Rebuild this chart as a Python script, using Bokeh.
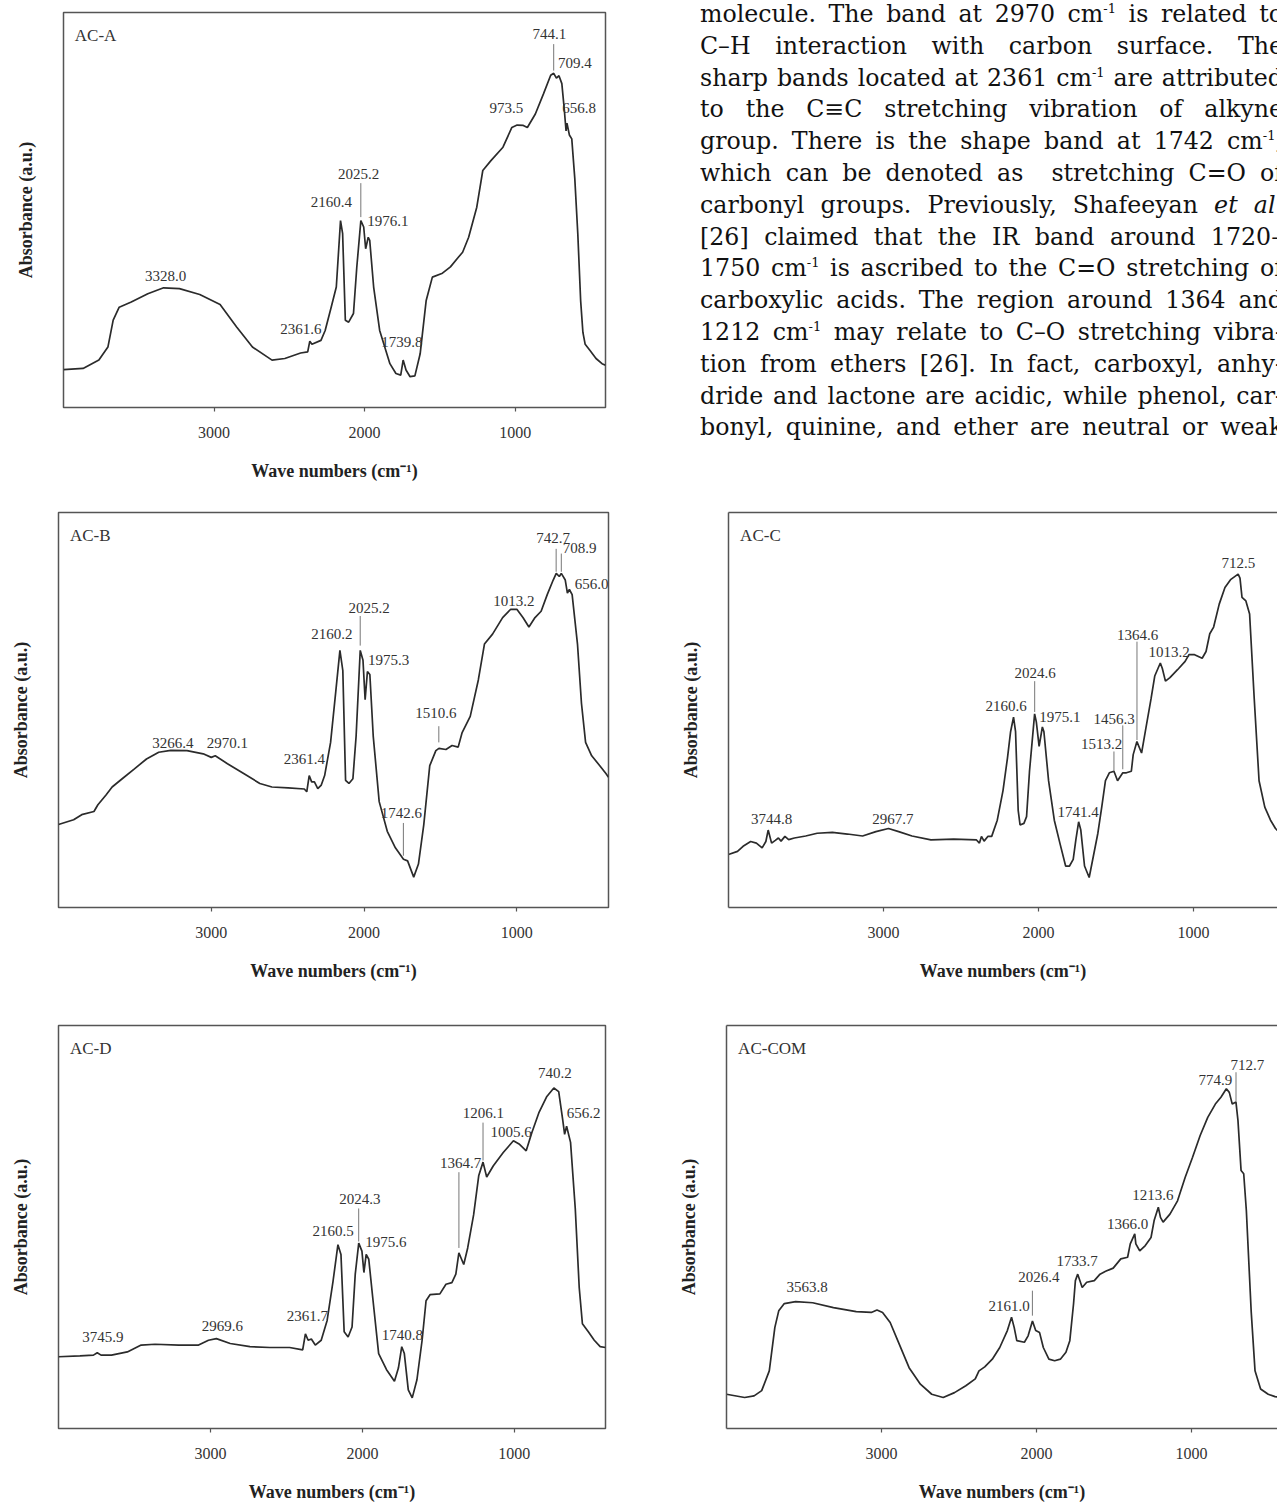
from bokeh.plotting import figure
from bokeh.models import Range1d, FixedTicker, LinearAxis, Div, ColumnDataSource
from bokeh.layouts import column, row
from bokeh.embed import file_html
from bokeh.resources import INLINE
from bokeh.core.properties import value

# ---------------- data ----------------
xticks = [1000, 2000, 3000]

acA_wn = [4000, 3870, 3765, 3705, 3670, 3630, 3550, 3440, 3335, 3230, 3095, 2960, 2850, 2745, 2615, 2530, 2425, 2378, 2364, 2350,
          2290, 2262, 2222, 2188, 2160, 2146, 2128, 2106, 2074, 2052, 2025, 2006, 1993, 1976, 1966, 1940, 1900, 1832, 1792, 1760,
          1744, 1725, 1698, 1666, 1631, 1591, 1550, 1483, 1430, 1376, 1349, 1309, 1255, 1215, 1161, 1081, 1022, 987, 946, 919,
          866, 812, 764, 744, 726, 709, 690, 675, 662, 656, 640, 624, 604, 584, 565, 550, 535, 504, 463, 423, 400]
acA_abs = [.096, .099, .12, .153, .221, .254, .267, .288, .303, .301, .286, .261, .204, .153, .12, .124, .138, .141, .168, .160,
           .170, .195, .254, .305, .473, .44, .221, .216, .238, .355, .473, .457, .402, .431, .423, .305, .195, .111, .086, .082,
           .12, .095, .078, .08, .136, .271, .33, .34, .356, .381, .393, .431, .507, .60, .625, .659, .709, .715, .714, .709,
           .743, .794, .841, .846, .834, .840, .82, .76, .70, .72, .69, .68, .58, .44, .27, .19, .16, .145, .124, .111, .107]

acB_wn = [4000, 3901, 3848, 3768, 3742, 3689, 3649, 3583, 3503, 3424, 3344, 3265, 3159, 3053, 3000, 2974, 2894, 2788, 2682, 2603,
          2497, 2391, 2375, 2359, 2343, 2325, 2303, 2280, 2258, 2219, 2184, 2158, 2139, 2121, 2099, 2073, 2052, 2025, 2007, 1993,
          1978, 1962, 1940, 1901, 1848, 1795, 1742, 1715, 1675, 1644, 1609, 1570, 1530, 1510, 1464, 1424, 1384, 1358, 1305, 1252,
          1212, 1159, 1093, 1040, 1000, 960, 921, 881, 841, 801, 762, 742, 722, 709, 683, 669, 656, 638, 603, 577,
          550, 510, 457, 417, 400]
acB_abs = [.21, .222, .235, .243, .26, .285, .305, .326, .351, .376, .393, .398, .397, .389, .38, .384, .364, .339, .314, .305,
           .303, .30, .293, .334, .318, .318, .301, .31, .334, .418, .551, .651, .60, .322, .314, .326, .434, .651, .626, .526,
           .597, .59, .434, .268, .193, .151, .122, .118, .077, .11, .21, .359, .397, .403, .40, .41, .406, .443, .484, .576,
           .667, .692, .734, .755, .755, .734, .71, .734, .75, .792, .829, .846, .838, .846, .829, .796, .805, .792, .667, .517,
           .418, .384, .359, .339, .33]

acC_wn = [4000, 3942, 3906, 3857, 3820, 3783, 3759, 3744, 3722, 3698, 3678, 3661, 3636, 3612, 3575, 3502, 3428, 3330, 3233, 3135,
          3049, 2968, 2902, 2816, 2694, 2547, 2400, 2381, 2368, 2351, 2327, 2302, 2266, 2229, 2200, 2180, 2161, 2148, 2131, 2119,
          2094, 2077, 2058, 2025, 2014, 1996, 1975, 1965, 1935, 1898, 1862, 1825, 1800, 1776, 1759, 1741, 1727, 1703, 1673, 1654,
          1617, 1592, 1568, 1543, 1513, 1490, 1456, 1433, 1401, 1389, 1365, 1335, 1311, 1274, 1250, 1214, 1201, 1181, 1152, 1103,
          1054, 1029, 993, 944, 919, 895, 870, 834, 797, 761, 712, 700, 687, 662, 638, 608, 577, 540, 503, 471, 445]
acC_abs = [.134, .142, .155, .167, .163, .151, .167, .196, .163, .17, .176, .168, .18, .172, .176, .181, .188, .19, .186, .181,
           .192, .20, .192, .181, .171, .173, .171, .163, .18, .168, .18, .18, .221, .296, .379, .445, .482, .445, .246, .209,
           .213, .23, .345, .49, .47, .408, .457, .445, .321, .221, .163, .105, .105, .122, .171, .217, .196, .105, .076, .114,
           .188, .254, .321, .341, .345, .321, .341, .341, .345, .387, .42, .391, .445, .528, .586, .619, .605, .573, .582, .602,
           .623, .64, .64, .631, .648, .693, .71, .768, .81, .83, .844, .834, .785, .776, .743, .528, .321, .254, .221, .20, .19]

acD_wn = [4000, 3859, 3770, 3745, 3720, 3651, 3547, 3456, 3365, 3208, 3078, 3013, 2961, 2870, 2740, 2609, 2479, 2393, 2375, 2357,
          2336, 2310, 2271, 2232, 2193, 2161, 2141, 2120, 2094, 2068, 2047, 2024, 2003, 1990, 1975, 1958, 1932, 1893, 1841, 1789,
          1763, 1741, 1724, 1698, 1672, 1641, 1607, 1581, 1555, 1490, 1450, 1411, 1385, 1365, 1333, 1307, 1268, 1234, 1206, 1182,
          1138, 1073, 1006, 969, 922, 885, 839, 786, 740, 708, 682, 669, 656, 630, 599, 573, 552, 513, 474, 435, 400]
acD_abs = [.178, .18, .182, .188, .182, .182, .19, .207, .209, .207, .207, .219, .223, .211, .203, .201, .201, .195, .235, .219,
           .222, .207, .219, .268, .366, .456, .432, .24, .227, .252, .383, .46, .44, .387, .432, .42, .325, .186, .146, .117,
           .15, .203, .186, .096, .076, .121, .219, .317, .332, .334, .358, .362, .383, .436, .407, .448, .53, .628, .661, .624,
           .652, .685, .714, .706, .689, .734, .783, .824, .845, .836, .767, .73, .75, .71, .546, .35, .26, .24, .219, .203, .201]

acCOM_wn = [4000, 3883, 3822, 3773, 3724, 3688, 3663, 3627, 3554, 3444, 3310, 3163, 3066, 3029, 2993, 2944, 2895, 2822, 2749, 2676,
            2602, 2529, 2456, 2395, 2371, 2334, 2285, 2237, 2188, 2161, 2144, 2127, 2078, 2054, 2026, 2005, 1980, 1956, 1920, 1883,
            1846, 1810, 1785, 1761, 1749, 1734, 1705, 1676, 1627, 1590, 1554, 1505, 1456, 1412, 1395, 1366, 1359, 1334, 1298, 1261,
            1241, 1214, 1200, 1183, 1139, 1090, 1041, 993, 944, 895, 846, 810, 775, 756, 737, 713, 700, 680, 663, 646,
            615, 590, 554, 505, 461, 440]
acCOM_abs = [.085, .077, .081, .094, .143, .251, .292, .31, .315, .312, .30, .29, .288, .294, .288, .263, .218, .151, .11, .085,
             .077, .089, .106, .123, .143, .153, .172, .201, .243, .276, .251, .218, .214, .23, .267, .243, .238, .201, .172, .168,
             .172, .189, .218, .309, .367, .383, .35, .363, .367, .383, .39, .398, .421, .425, .458, .483, .458, .441, .454, .474,
             .516, .549, .524, .512, .532, .565, .623, .673, .727, .772, .805, .822, .843, .834, .805, .81, .764, .64, .632, .541,
             .292, .143, .098, .085, .079, .078]

# peak labels: text, x (cm-1), y (a.u.)
acA_lab_text = ["744.1", "709.4", "656.8", "973.5", "2025.2", "2160.4", "1976.1", "3328.0", "2361.6", "1739.8"]
acA_lab_x = [772, 603, 576, 1059, 2039, 2221, 1846, 3322, 2423, 1752]
acA_lab_y = [.945, .871, .758, .758, .59, .52, .472, .334, .2, .166]
acA_mark_x = [744.1, 2025.2]
acA_mark_y0 = [.853, .482]
acA_mark_y1 = [.92, .568]

acB_lab_text = ["742.7", "708.9", "656.0", "1013.2", "2025.2", "2160.2", "1975.3", "1510.6", "3266.4", "2970.1", "2361.4", "1742.6"]
acB_lab_x = [762, 589, 510, 1019, 1967, 2211, 1840, 1530, 3252, 2894, 2391, 1755]
acB_lab_y = [.936, .911, .82, .775, .759, .692, .627, .493, .416, .416, .376, .239]
acB_mark_x = [742.7, 708.9, 2025.2, 1510.6, 1742.6]
acB_mark_y0 = [.85, .85, .663, .418, .131]
acB_mark_y1 = [.908, .896, .738, .459, .214]

acC_lab_text = ["712.5", "1364.6", "1013.2", "2024.6", "2160.6", "1975.1", "1456.3", "1513.2", "1741.4", "3744.8", "2967.7"]
acC_lab_x = [711, 1360, 1157, 2021, 2209, 1862, 1512, 1592, 1744, 3722, 2939]
acC_lab_y = [.872, .689, .648, .594, .51, .482, .478, .413, .242, .225, .225]
acC_mark_x = [1364.6, 2024.6, 1456.3, 1513.2]
acC_mark_y0 = [.424, .495, .35, .345]
acC_mark_y1 = [.673, .573, .461, .395]

acD_lab_text = ["740.2", "656.2", "1206.1", "1005.6", "1364.7", "2024.3", "2160.5", "1975.6", "2361.7", "2969.6", "1740.8", "3745.9"]
acD_lab_x = [734, 544, 1203, 1021, 1354, 2016, 2193, 1846, 2362, 2922, 1737, 3708]
acD_lab_y = [.881, .782, .782, .736, .659, .569, .49, .463, .278, .254, .231, .227]
acD_mark_x = [1206.1, 1364.7, 2024.3]
acD_mark_y0 = [.665, .448, .464]
acD_mark_y1 = [.759, .636, .546]

acCOM_lab_text = ["712.7", "774.9", "1213.6", "1366.0", "1733.7", "2026.4", "3563.8", "2161.0"]
acCOM_lab_x = [639, 846, 1249, 1412, 1737, 1985, 3480, 2176]
acCOM_lab_y = [.901, .865, .58, .507, .415, .375, .35, .305]
acCOM_mark_x = [712.7, 2026.4]
acCOM_mark_y0 = [.81, .28]
acCOM_mark_y1 = [.884, .342]

text_lines = [
    "molecule. The band at 2970 cm<sup>-1</sup> is related to",
    "C\u2013H interaction with carbon surface. The",
    "sharp bands located at 2361 cm<sup>-1</sup> are attributed",
    "to the C\u2261C stretching vibration of alkyne",
    "group. There is the shape band at 1742 cm<sup>-1</sup>,",
    "which can be denoted as&nbsp; stretching C=O of",
    "carbonyl groups. Previously, Shafeeyan <i>et al.</i>",
    "[26] claimed that the IR band around 1720\u2013",
    "1750 cm<sup>-1</sup> is ascribed to the C=O stretching of",
    "carboxylic acids. The region around 1364 and",
    "1212 cm<sup>-1</sup> may relate to C\u2013O stretching vibra-",
    "tion from ethers [26]. In fact, carboxyl, anhy-",
    "dride and lactone are acidic, while phenol, car-",
    "bonyl, quinine, and ether are neutral or weak",
]

# ---------------- styling ----------------
SERIF = "Liberation Serif"
FRAME = "#555555"
INK = "#333333"


def panel(title, wn, ab, lt, lx, ly, mx, my0, my1, width, height, borders, x_end, cut):
    left, right, top, bottom = borders
    p = figure(width=width, height=height, x_range=Range1d(4000, x_end), y_range=Range1d(0, 1),
               output_backend="svg", toolbar_location=None,
               min_border_left=left, min_border_right=right, min_border_top=top, min_border_bottom=bottom)
    p.grid.visible = False
    p.background_fill_color = "white"
    p.border_fill_color = "white"

    xa = p.xaxis[0]
    xa.ticker = FixedTicker(ticks=xticks)
    xa.major_tick_out = 4
    xa.major_tick_in = 0
    xa.minor_tick_line_color = None
    xa.major_tick_line_color = FRAME
    xa.major_tick_line_width = 1.2
    xa.major_label_text_font = SERIF
    xa.major_label_text_font_size = "16px"
    xa.major_label_text_color = INK
    xa.major_label_standoff = 15
    xa.axis_label = "Wave numbers (cm\u207b\u00b9)"
    xa.axis_label_text_font = SERIF
    xa.axis_label_text_font_style = "bold"
    xa.axis_label_text_font_size = "18px"
    xa.axis_label_text_color = "#222222"
    xa.axis_label_standoff = 20

    ya = p.yaxis[0]
    ya.ticker = FixedTicker(ticks=[])
    ya.major_tick_out = 0
    ya.major_tick_in = 0
    ya.minor_tick_line_color = None
    ya.major_label_text_font_size = "0px"
    ya.axis_label = "Absorbance (a.u.)"
    ya.axis_label_text_font = SERIF
    ya.axis_label_text_font_style = "bold"
    ya.axis_label_text_font_size = "18px"
    ya.axis_label_text_color = "#222222"
    ya.axis_label_standoff = 28

    if cut:
        p.outline_line_color = None
        for ax in (xa, ya):
            ax.axis_line_color = FRAME
            ax.axis_line_width = 1.5
        top_ax = LinearAxis(ticker=FixedTicker(ticks=[]), major_label_text_font_size="0px",
                            major_tick_out=0, major_tick_in=0, minor_tick_line_color=None,
                            axis_line_color=FRAME, axis_line_width=1.5)
        p.add_layout(top_ax, "above")
    else:
        p.outline_line_color = FRAME
        p.outline_line_width = 1.5
        xa.axis_line_color = None
        ya.axis_line_color = None

    src = ColumnDataSource(dict(x=wn, y=ab))
    p.line("x", "y", source=src, line_color="#2b2b2b", line_width=1.7)

    p.segment(x0=mx, y0=my0, x1=mx, y1=my1, line_color="#777777", line_width=1)

    p.text(x=lx, y=ly, text=lt, text_align="center", text_baseline="middle",
           text_font=value(SERIF), text_font_size="15px", text_color=INK)
    p.text(x=[3925], y=[0.942], text=[title], text_align="left", text_baseline="middle",
           text_font=value(SERIF), text_font_size="17px", text_color=INK)
    return p


figA = panel("AC-A", acA_wn, acA_abs, acA_lab_text, acA_lab_x, acA_lab_y, acA_mark_x, acA_mark_y0, acA_mark_y1,
             660, 490, (63, 55, 12, 83), 400, False)
figB = panel("AC-B", acB_wn, acB_abs, acB_lab_text, acB_lab_x, acB_lab_y, acB_mark_x, acB_mark_y0, acB_mark_y1,
             660, 515, (58, 52, 17, 98), 400, False)
figC = panel("AC-C", acC_wn, acC_abs, acC_lab_text, acC_lab_x, acC_lab_y, acC_mark_x, acC_mark_y0, acC_mark_y1,
             617, 515, (68, 0, 22, 93), 458, True)
figD = panel("AC-D", acD_wn, acD_abs, acD_lab_text, acD_lab_x, acD_lab_y, acD_mark_x, acD_mark_y0, acD_mark_y1,
             660, 501, (58, 55, 20, 73), 400, False)
figCOM = panel("AC-COM", acCOM_wn, acCOM_abs, acCOM_lab_text, acCOM_lab_x, acCOM_lab_y, acCOM_mark_x, acCOM_mark_y0,
               acCOM_mark_y1, 617, 501, (66, 0, 20, 78), 445, True)

line_html = "".join(
    '<div style="text-align:justify;text-align-last:justify;height:31.8px;line-height:31.8px;overflow:hidden;">%s</div>' % l
    for l in text_lines)
html = ('<div style="margin:-1px 0 0 40px;width:583px;font-family:\'DejaVu Serif\';font-size:23.7px;color:#111;">%s</div>'
        % line_html)
html = html.replace("<sup>", '<sup style="font-size:13px;line-height:0;vertical-align:9px;">')
para = Div(text=html, width=617, height=490, margin=(0, 0, 0, 0),
           styles={"overflow": "hidden", "background": "white", "margin": "0", "padding": "0"})

layout = column(row(figA, para, spacing=0), row(figB, figC, spacing=0), row(figD, figCOM, spacing=0), spacing=0)

open("out.html", "w").write(file_html(layout, INLINE))
